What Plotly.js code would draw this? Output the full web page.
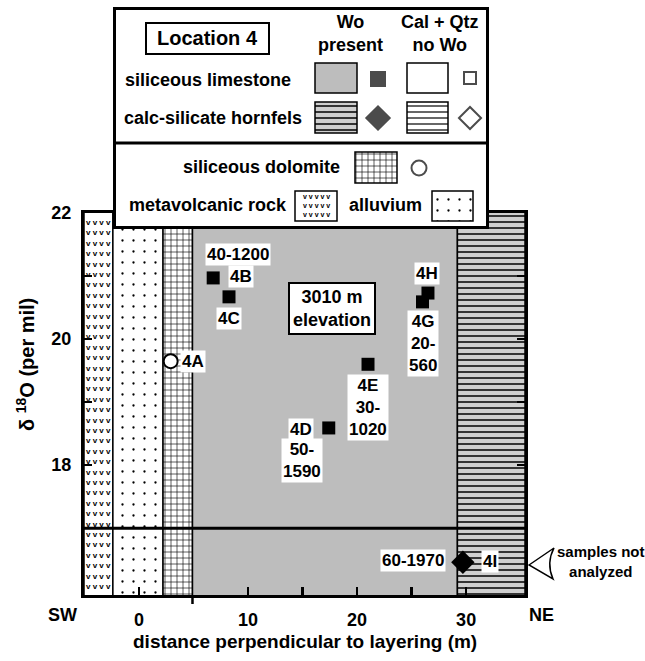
<!DOCTYPE html>
<html><head><meta charset="utf-8">
<script src="https://cdn.plot.ly/plotly-3.0.1.min.js"></script>
<style>html,body{margin:0;padding:0;background:#fff}</style>
</head><body><div id="chart" style="width:645px;height:661px"></div>
<script>
// ---------------- data ----------------
const sampleIds = ['4A','4B','4C','4D','4E','4G','4H','4I'];
const sampleDistance = [2.9, 6.8, 8.25, 17.4, 21.0, 26.0, 26.5, 29.7];
const sampleD18O = [19.65, 20.97, 20.67, 18.59, 19.6, 20.59, 20.73, 16.46];
const sampleRock = ['dolomite','limestone','limestone','limestone','limestone','limestone','limestone','hornfels'];
const sampleRange = ['', '40-1200', '', '50-<br>1590', '30-<br>1020', '20-<br>560', '', '60-1970'];

const layerNames = ['metavolcanic rock','alluvium','siliceous dolomite','siliceous limestone','calc-silicate hornfels'];
const layerFrom = [-5.05, -2.4, 2.2, 4.9, 29.2];
const layerTo   = [-2.4, 2.2, 4.9, 29.2, 35.4];

const xTickVals = [0, 10, 15, 20, 25, 30];
const xTickText = ['0', '10', ' ', '20', ' ', '30'];
const yTickVals = [18, 19, 20, 21, 22];
const yTickText = ['18', ' ', '20', ' ', '22'];
const notAnalyzedBelow = 17;

// ---------------- styles / layout helpers ----------------
const W = 645, H = 661;
const M = {l: 20, r: 20, t: 5, b: 66};
const PX0 = M.l, PX1 = W - M.r, PY0 = M.t, PY1 = H - M.b;
const px = x => (x - PX0) / (PX1 - PX0);
const py = y => (PY1 - y) / (PY1 - PY0);
const FONT = 'Liberation Sans, Arial, Helvetica, sans-serif';
const bold = (size) => ({family: FONT, size: size, color: 'black', weight: 700});
const XR = [-5.05, 35.4], YR = [15.94, 22];

const layerStyle = [
  {color: 'white'},
  {color: 'white', pattern: {shape: '.', fillmode: 'replace', bgcolor: 'white', fgcolor: 'black', size: 11, solidity: 0.035}},
  {color: 'white', pattern: {shape: '+', fillmode: 'replace', bgcolor: 'white', fgcolor: 'black', size: 6, solidity: 0.2}},
  {color: '#bdbdbd'},
  {color: '#cfcfcf', pattern: {shape: '-', fillmode: 'replace', bgcolor: '#cfcfcf', fgcolor: 'black', size: 6, solidity: 0.25}}
];

const traces = [];
layerNames.forEach((name, i) => {
  const m = Object.assign({line: {color: 'black', width: 1.5}}, layerStyle[i]);
  traces.push({type: 'bar', name: name, x: [(layerFrom[i] + layerTo[i]) / 2], width: [layerTo[i] - layerFrom[i]],
    base: [YR[0] - 1], y: [YR[1] - YR[0] + 2], marker: m, xaxis: 'x', yaxis: 'y', hoverinfo: 'skip', showlegend: false});
});

const symStyle = {
  dolomite: {symbol: 'circle', color: 'white', size: 14, line: {color: 'black', width: 2}},
  limestone: {symbol: 'square', color: 'black', size: 13, line: {color: 'black', width: 0}},
  hornfels: {symbol: 'diamond', color: 'black', size: 18, line: {color: 'black', width: 0}}
};
Object.keys(symStyle).forEach(rock => {
  const idx = sampleIds.map((_, i) => i).filter(i => sampleRock[i] === rock);
  traces.push({type: 'scatter', mode: 'markers', x: idx.map(i => sampleDistance[i]), y: idx.map(i => sampleD18O[i]),
    marker: symStyle[rock], xaxis: 'x', yaxis: 'y', hoverinfo: 'skip', showlegend: false, cliponaxis: false});
});

// ---------------- legend box (pixel coordinates on hidden axes x2/y2) ----------------
const LX = [113, 489], LY = [229, 7];
function swatch(x0, x1, y0, y1, marker) {
  return {type: 'bar', x: [(x0 + x1) / 2], width: [x1 - x0], base: [y0], y: [y1 - y0],
    marker: Object.assign({line: {color: 'black', width: 1.5}}, marker), xaxis: 'x2', yaxis: 'y2', hoverinfo: 'skip', showlegend: false};
}
traces.push(Object.assign(swatch(113, 489, 7, 229, {color: 'white'}), {marker: {color: 'white', line: {width: 0}}}));
traces.push(swatch(315, 357, 63, 93, layerStyle[3]));
traces.push(swatch(407, 448, 63, 93, {color: 'white'}));
traces.push(swatch(315, 357, 102, 133, layerStyle[4]));
traces.push(swatch(407, 448, 102, 133, {color: 'white', pattern: {shape: '-', fillmode: 'replace', bgcolor: 'white', fgcolor: 'black', size: 6, solidity: 0.2}}));
traces.push(swatch(355, 397, 152, 183, layerStyle[2]));
traces.push(swatch(295, 337, 191, 221, layerStyle[0]));
traces.push(swatch(432, 473, 191, 221, layerStyle[1]));
traces.push({type: 'scatter', mode: 'markers', x: [378, 470, 378, 470, 419], y: [79, 78, 118, 118, 168],
  marker: {symbol: ['square', 'square-open', 'diamond', 'diamond-open', 'circle-open'], color: 'black', size: [14, 12, 18, 17, 15], line: {color: 'black', width: 2}},
  xaxis: 'x2', yaxis: 'y2', hoverinfo: 'skip', showlegend: false, cliponaxis: false});

// ---------------- annotations ----------------
const ann = [];
const labelPos = {
  '4A': {id: [22, 0]},
  '4B': {id: [28, 1], range: [25, 23]},
  '4C': {id: [0, -22]},
  '4D': {id: [-28, -2], range: [-27, -33]},
  '4E': {both: [0, -43]},
  '4G': {both: [0, -42]},
  '4H': {id: [-1, 20]},
  '4I': {id: [27, 1], range: [-50, 2]}
};
const C = {showarrow: false, xanchor: 'center', yanchor: 'middle'};
sampleIds.forEach((id, i) => {
  const p = labelPos[id];
  const base = Object.assign({xref: 'x', yref: 'y', x: sampleDistance[i], y: sampleD18O[i],
    font: bold(17), bgcolor: 'white', borderpad: 1}, C);
  if (p.both) {
    ann.push(Object.assign({}, base, {text: id + '<br>' + sampleRange[i], xshift: p.both[0], yshift: p.both[1]}));
  } else {
    ann.push(Object.assign({}, base, {text: id, xshift: p.id[0], yshift: p.id[1]}));
    if (p.range) ann.push(Object.assign({}, base, {text: sampleRange[i], xshift: p.range[0], yshift: p.range[1]}));
  }
});
ann.push(Object.assign({xref: 'x', yref: 'y', x: 17.7, y: 20.48, text: '3010 m<br>elevation', font: bold(18),
  bgcolor: 'white', bordercolor: 'black', borderwidth: 2, borderpad: 3}, C));
// metavolcanic "v" texture
ann.push(Object.assign({xref: 'x', yref: 'y', x: (layerFrom[0] + layerTo[0]) / 2, y: (YR[0] + YR[1]) / 2,
  text: Array(36).fill('v v v v').join('<br>'), font: {family: FONT, size: 8, color: 'black', weight: 700}}, C));
ann.push(Object.assign({xref: 'x2', yref: 'y2', x: 316, y: 206, text: Array(3).fill('v v v v v').join('<br>'),
  font: {family: FONT, size: 7, color: 'black', weight: 700}}, C));
// axes text
ann.push(Object.assign({xref: 'paper', yref: 'paper', x: px(26), y: py(365), text: 'δ <sup>18</sup>O (per mil)', textangle: -90,
  font: bold(20)}, C));
ann.push(Object.assign({xref: 'paper', yref: 'paper', x: px(305), y: py(641), text: 'distance perpendicular to layering (m)',
  font: bold(19)}, C));
ann.push(Object.assign({xref: 'paper', yref: 'paper', x: px(62), y: py(615), text: 'SW', font: bold(18)}, C));
ann.push(Object.assign({xref: 'paper', yref: 'paper', x: px(541), y: py(615), text: 'NE', font: bold(18)}, C));
ann.push(Object.assign({xref: 'paper', yref: 'paper', x: px(601), y: py(561), text: 'samples not<br>analyzed', font: bold(15)}, C));
// legend text
const lf = bold(18);
ann.push(Object.assign({xref: 'x2', yref: 'y2', x: 207.5, y: 38.5, text: 'Location 4', font: bold(20)}, C));
ann.push(Object.assign({xref: 'x2', yref: 'y2', x: 350, y: 34, text: 'Wo<br>present', font: lf}, C));
ann.push(Object.assign({xref: 'x2', yref: 'y2', x: 440, y: 34, text: 'Cal + Qtz<br>no Wo', font: lf}, C));
const R = {showarrow: false, xanchor: 'right', yanchor: 'middle', xref: 'x2', yref: 'y2', font: lf};
ann.push(Object.assign({x: 293, y: 80, text: 'siliceous limestone'}, R));
ann.push(Object.assign({x: 304, y: 118, text: 'calc-silicate hornfels'}, R));
ann.push(Object.assign({x: 342, y: 167, text: 'siliceous dolomite'}, R));
ann.push(Object.assign({x: 289, y: 205, text: 'metavolcanic rock'}, R));
ann.push(Object.assign({x: 424, y: 205, text: 'alluvium'}, R));

// ---------------- shapes ----------------
const shapes = [
  {type: 'line', xref: 'x', yref: 'y', x0: XR[0], x1: XR[1], y0: notAnalyzedBelow, y1: notAnalyzedBelow, line: {color: 'black', width: 3}},
  {type: 'line', xref: 'x', yref: 'paper', x0: layerTo[2], x1: layerTo[2], y0: py(595), y1: py(604), line: {color: 'black', width: 2.5}},
  {type: 'rect', xref: 'x2', yref: 'y2', x0: 114.5, x1: 487.5, y0: 8.5, y1: 227.5, line: {color: 'black', width: 3}},
  {type: 'line', xref: 'x2', yref: 'y2', x0: 113, x1: 489, y0: 143, y1: 143, line: {color: 'black', width: 3}},
  {type: 'rect', xref: 'x2', yref: 'y2', x0: 146, x1: 269, y0: 23, y1: 54, line: {color: 'black', width: 2}},
  {type: 'path', xref: 'paper', yref: 'paper',
    path: `M${px(529)},${py(565)} L${px(554)},${py(548)} Q${px(546)},${py(563)} ${px(553)},${py(579)} Z`,
    line: {color: 'black', width: 1.5}, fillcolor: 'white'}
];

const layout = {
  width: W, height: H, margin: M, paper_bgcolor: 'white', plot_bgcolor: 'rgba(0,0,0,0)',
  barmode: 'overlay', bargap: 0, showlegend: false, hovermode: false,
  font: {family: FONT, color: 'black'},
  xaxis: {domain: [px(84), px(525)], range: XR, anchor: 'y', showgrid: false, zeroline: false,
    showline: true, linecolor: 'black', linewidth: 3, mirror: true,
    ticks: 'inside', ticklen: 8, tickwidth: 2.5, tickcolor: 'black',
    tickmode: 'array', tickvals: xTickVals, ticktext: xTickText, tickfont: bold(18), ticklabelstandoff: 6},
  yaxis: {domain: [0, py(213)], range: YR, anchor: 'x', showgrid: false, zeroline: false,
    showline: true, linecolor: 'black', linewidth: 3, mirror: 'ticks',
    ticks: 'inside', ticklen: 8, tickwidth: 2.5, tickcolor: 'black',
    tickmode: 'array', tickvals: yTickVals, ticktext: yTickText, tickfont: bold(18), ticklabelstandoff: 6},
  xaxis2: {domain: [px(LX[0]), px(LX[1])], range: LX, anchor: 'y2', visible: false, fixedrange: true},
  yaxis2: {domain: [py(LY[0]), py(LY[1])], range: LY, anchor: 'x2', visible: false, fixedrange: true},
  annotations: ann, shapes: shapes
};

Plotly.newPlot('chart', traces, layout, {staticPlot: true, displayModeBar: false});
</script></body></html>
